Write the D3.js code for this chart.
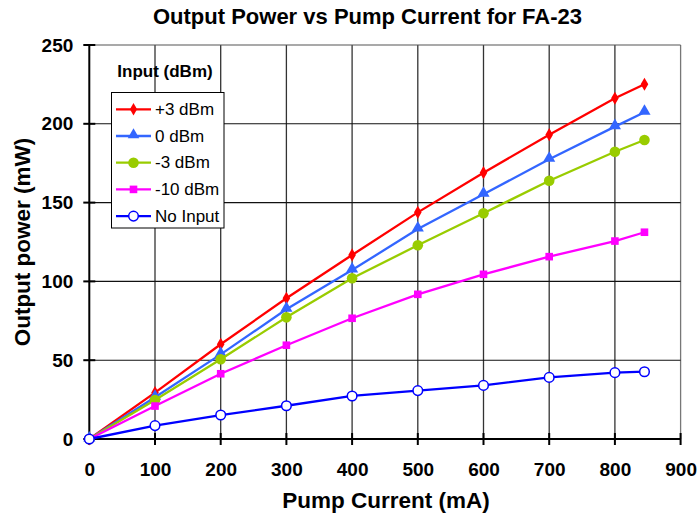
<!DOCTYPE html>
<html><head><meta charset="utf-8">
<script src="https://cdn.jsdelivr.net/npm/d3@7"></script>
<style>body{margin:0;background:#fff}svg{display:block}text{font-family:"Liberation Sans",Arial,sans-serif}</style>
</head><body><svg id="c" width="699" height="521"></svg>
<script>
const current = [0,100,200,300,400,500,600,700,800,845];
const plus3 = [0,29.4,60.1,89.3,116.8,143.8,169,193.1,216.2,225.1];
const zero = [0,26.5,53.7,82.3,107.2,133.2,155.3,177.5,198.2,207.3];
const minus3 = [0,24.7,50.6,77.2,102,122.9,143.2,163.9,182.3,189.7];
const minus10 = [0,20.9,41.4,59.5,76.6,91.8,104.5,115.7,125.6,131.2];
const noInput = [0,8.5,15.2,21.1,27.3,30.7,34.0,39.1,42.1,42.7];
const seriesNames = ["+3 dBm","0 dBm","-3 dBm","-10 dBm","No Input"];
const xTicks = [0,100,200,300,400,500,600,700,800,900];
const yTicks = [0,50,100,150,200,250];

const series = [
 {name:seriesNames[0], vals:plus3, color:"#ff0000", marker:"diamond"},
 {name:seriesNames[1], vals:zero, color:"#3366ff", marker:"triangle"},
 {name:seriesNames[2], vals:minus3, color:"#99cc00", marker:"circle"},
 {name:seriesNames[3], vals:minus10, color:"#ff00ff", marker:"square"},
 {name:seriesNames[4], vals:noInput, color:"#0000ff", marker:"open"}
];

const svg = d3.select("#c");
const L=89.3, R=680.6, T=45, B=439;
const x = d3.scaleLinear().domain([0,900]).range([L,R]);
const y = d3.scaleLinear().domain([0,250]).range([B,T]);

// grid
const g = svg.append("g");
g.selectAll(".vg").data(xTicks.slice(1)).enter().append("line")
 .attr("x1",d=>x(d)).attr("x2",d=>x(d)).attr("y1",T).attr("y2",B)
 .attr("stroke",d=>d===900?"#777":"#333").attr("stroke-width",1.3);
g.selectAll(".hg").data(yTicks.slice(1)).enter().append("line")
 .attr("x1",L).attr("x2",R).attr("y1",d=>y(d)).attr("y2",d=>y(d))
 .attr("stroke",d=>d===250?"#555":"#111").attr("stroke-width",1.1);

// axes
const xAxis = d3.axisBottom(x).tickValues(xTicks).tickSize(0).tickPadding(24);
const yAxis = d3.axisLeft(y).tickValues(yTicks).tickSize(0).tickPadding(16);
const xa = svg.append("g").attr("transform",`translate(0,${B})`).call(xAxis);
const ya = svg.append("g").attr("transform",`translate(${L},0)`).call(yAxis);
[xa,ya].forEach(a=>{a.select(".domain").remove();
 a.selectAll("text").attr("font-size",19).attr("font-weight","bold").attr("fill","#000")
  .attr("font-family","'Liberation Sans',Arial,sans-serif");});
xa.selectAll("text").attr("dy","0.71em");
// tick marks crossing
svg.selectAll(".xt").data(xTicks).enter().append("line")
 .attr("x1",d=>x(d)).attr("x2",d=>x(d)).attr("y1",B-6).attr("y2",B+6).attr("stroke","#000").attr("stroke-width",2);
svg.selectAll(".yt").data(yTicks).enter().append("line")
 .attr("x1",L-6).attr("x2",L+6).attr("y1",d=>y(d)).attr("y2",d=>y(d)).attr("stroke","#000").attr("stroke-width",2);
svg.append("line").attr("x1",L).attr("x2",R).attr("y1",B).attr("y2",B).attr("stroke","#000").attr("stroke-width",2);
svg.append("line").attr("x1",L).attr("x2",L).attr("y1",T).attr("y2",B).attr("stroke","#000").attr("stroke-width",2);

// markers
function drawMarker(sel, s, cx, cy, scale){
 scale = scale||1;
 if(s.marker==="diamond"){
  sel.append("path").attr("d",d3.symbol(d3.symbolDiamond, 50*scale)()).attr("transform",`translate(${cx},${cy})`).attr("fill",s.color);
 } else if(s.marker==="triangle"){
  sel.append("path").attr("d",d3.symbol(d3.symbolTriangle, 64*scale)()).attr("transform",`translate(${cx},${cy-1})`).attr("fill",s.color);
 } else if(s.marker==="circle"){
  sel.append("circle").attr("cx",cx).attr("cy",cy).attr("r",5.3).attr("fill",s.color);
 } else if(s.marker==="square"){
  sel.append("rect").attr("x",cx-3.8).attr("y",cy-3.8).attr("width",7.6).attr("height",7.6).attr("fill",s.color);
 } else {
  sel.append("circle").attr("cx",cx).attr("cy",cy).attr("r",4.8).attr("fill","#fff").attr("stroke",s.color).attr("stroke-width",1.5);
 }
}

const line = d3.line().x(d=>x(d[0])).y(d=>y(d[1]));
series.forEach(s=>{
 const pts = current.map((c,i)=>[c,s.vals[i]]);
 const sg = svg.append("g");
 sg.append("path").attr("d",line(pts)).attr("fill","none").attr("stroke",s.color).attr("stroke-width",2.3);
 pts.forEach(p=>drawMarker(sg,s,x(p[0]),y(p[1])));
});

// legend
svg.append("text").attr("x",165).attr("y",76.5).attr("text-anchor","middle").attr("font-size",17).attr("font-weight","bold").text("Input (dBm)");
const lg = svg.append("g");
lg.append("rect").attr("x",111.5).attr("y",92.5).attr("width",112.5).attr("height",135.5).attr("fill","#fff").attr("stroke","#000").attr("stroke-width",1);
series.forEach((s,i)=>{
 const cy = 109.3 + i*26.7;
 lg.append("line").attr("x1",116).attr("x2",151).attr("y1",cy).attr("y2",cy).attr("stroke",s.color).attr("stroke-width",2.3);
 drawMarker(lg,s,133.5,cy,0.9);
 lg.append("text").attr("x",155).attr("y",cy+5.5).attr("font-size",17).text(s.name);
});

// titles
svg.append("text").attr("x",367.5).attr("y",24).attr("text-anchor","middle").attr("font-size",22).attr("font-weight","bold").text("Output Power vs Pump Current for FA-23");
svg.append("text").attr("x",386).attr("y",508).attr("text-anchor","middle").attr("font-size",22.5).attr("font-weight","bold").text("Pump Current (mA)");
svg.append("text").attr("transform","translate(30,242) rotate(-90)").attr("text-anchor","middle").attr("font-size",22.5).attr("font-weight","bold").text("Output power (mW)");
</script></body></html>
